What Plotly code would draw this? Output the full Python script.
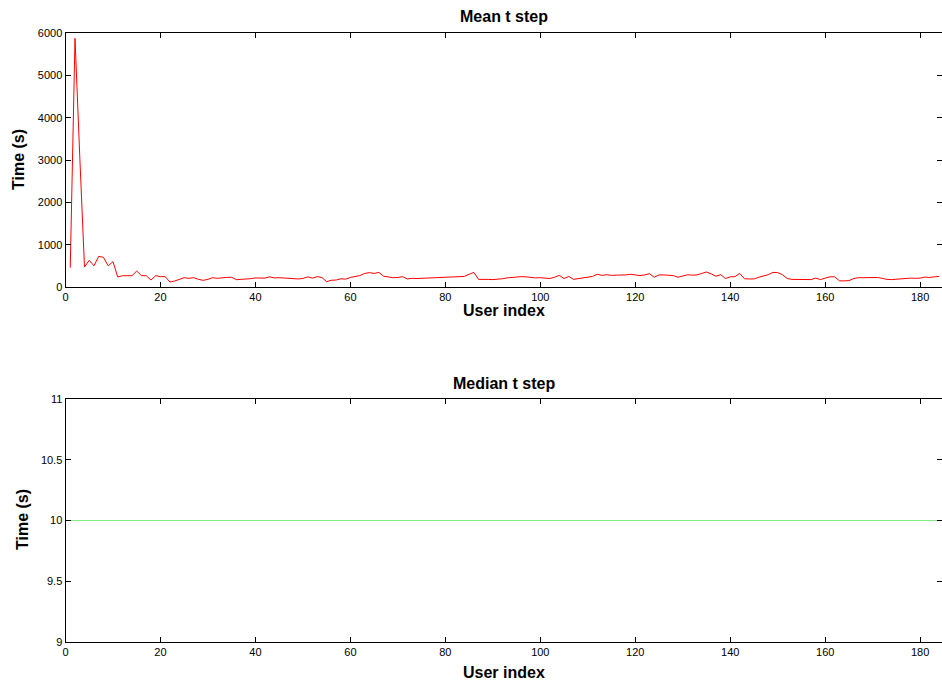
import plotly.graph_objects as go

user_index = list(range(1, 185))
mean_t_step = [
    456, 5875, 3100, 472, 630, 500, 725, 700, 500, 598,
    236, 267, 267, 267, 378, 267, 267, 165, 267, 244,
    244, 118, 142, 181, 220, 205, 220, 181, 157, 181,
    220, 205, 220, 228, 228, 173, 181, 181, 197, 213,
    215, 210, 240, 215, 220, 210, 200, 195, 190, 200,
    240, 210, 245, 225, 125, 160, 165, 195, 185, 225,
    250, 270, 320, 340, 320, 345, 255, 240, 220, 225,
    245, 190, 205, 200, 205, 210, 215, 205, 210, 230,
    230, 240, 245, 250, 300, 345, 180, 185, 180, 175,
    180, 195, 215, 225, 240, 245, 240, 220, 215, 220,
    215, 200, 230, 275, 200, 250, 180, 195, 210, 240,
    250, 300, 275, 290, 275, 280, 275, 285, 300, 280,
    270, 285, 315, 230, 285, 285, 280, 270, 230, 260,
    290, 280, 285, 320, 355, 310, 255, 290, 200, 240,
    245, 320, 195, 190, 190, 230, 255, 290, 345, 340,
    290, 200, 180, 180, 185, 185, 175, 210, 175, 210,
    240, 240, 145, 145, 150, 200, 220, 220, 225, 225,
    225, 205, 180, 175, 185, 195, 200, 210, 205, 210,
    235, 225, 240, 250,
]
median_t_step = [10] * len(user_index)

x_ticks = [0, 20, 40, 60, 80, 100, 120, 140, 160, 180]
y1_ticks = [0, 1000, 2000, 3000, 4000, 5000, 6000]
y2_ticks = [9, 9.5, 10, 10.5, 11]
y2_labels = ["9", "9.5", "10", "10.5", "11"]

W, H = 942, 692
x0 = 65.5 / W

fig = go.Figure()
fig.add_trace(go.Scatter(x=user_index, y=mean_t_step, mode="lines",
                         line=dict(color="#ff0000", width=1), xaxis="x", yaxis="y",
                         showlegend=False))
fig.add_trace(go.Scatter(x=user_index, y=median_t_step, mode="lines",
                         line=dict(color="rgb(128,240,128)", width=1.2), xaxis="x2", yaxis="y2",
                         showlegend=False))

font = "Liberation Sans, Arial, sans-serif"
axis_common = dict(showline=True, linecolor="black", linewidth=1, mirror="ticks",
                   ticks="inside", ticklen=5, tickcolor="black", showgrid=False,
                   zeroline=False, tickfont=dict(family=font, size=11, color="black"),
                   automargin=False)

fig.update_layout(
    width=W, height=H,
    margin=dict(l=0, r=0, t=0, b=0),
    paper_bgcolor="white", plot_bgcolor="white",
    xaxis=dict(domain=[x0, 1], range=[0, 184.6], tickvals=x_ticks, anchor="y", **axis_common),
    yaxis=dict(domain=[(H - 287) / H, (H - 33) / H], range=[0, 6000], tickvals=y1_ticks,
               anchor="x", **axis_common),
    xaxis2=dict(domain=[x0, 1], range=[0, 184.6], tickvals=x_ticks, anchor="y2", **axis_common),
    yaxis2=dict(domain=[(H - 642) / H, (H - 399) / H], range=[9, 11], tickvals=y2_ticks,
                ticktext=y2_labels, anchor="x2", **axis_common),
)

tfont = dict(family=font, size=16, color="black")
def ann(text, x, y, angle=0):
    fig.add_annotation(text="<b>%s</b>" % text, x=x / W, y=1 - y / H, xref="paper", yref="paper",
                       showarrow=False, font=tfont, textangle=angle,
                       xanchor="center", yanchor="middle")

ann("Mean t step", 504, 17)
ann("User index", 504, 310)
ann("Time (s)", 18, 160, -90)
ann("Median t step", 504, 383)
ann("User index", 504, 672)
ann("Time (s)", 22, 520, -90)

fig.write_html("out.html", config={"displayModeBar": False},
               post_script="document.body.style.margin='0px';document.body.style.overflow='hidden';")
